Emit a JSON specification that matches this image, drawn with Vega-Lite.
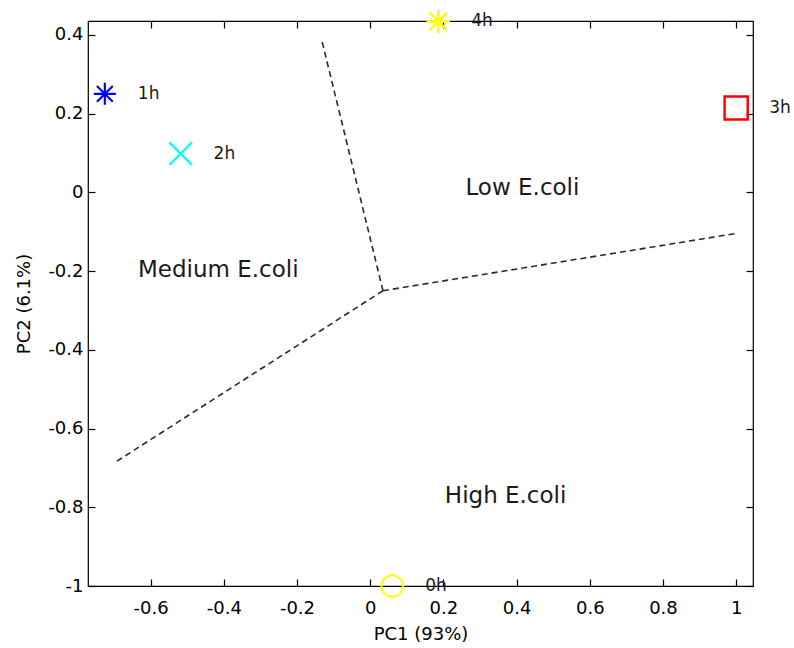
{
  "$schema": "https://vega.github.io/schema/vega-lite/v6.json",
  "width": 665,
  "height": 565,
  "autosize": "none",
  "padding": {"left": 88, "top": 21, "right": 41, "bottom": 62},
  "background": "white",
  "config": {
    "view": {"stroke": "#000", "strokeWidth": 1.2},
    "font": "DejaVu Sans",
    "axis": {
      "grid": false,
      "domain": false,
      "tickColor": "#000",
      "tickWidth": 1.2,
      "labelFont": "DejaVu Sans",
      "labelFontSize": 18,
      "labelColor": "#000",
      "titleFont": "DejaVu Sans",
      "titleFontSize": 18,
      "titleFontWeight": "normal",
      "titleColor": "#000"
    }
  },
  "datasets": {
    "points": [
      {"time": "0h", "pc1": 0.060, "pc2": -1.0},
      {"time": "1h", "pc1": -0.725, "pc2": 0.250},
      {"time": "2h", "pc1": -0.518, "pc2": 0.098},
      {"time": "3h", "pc1": 1.0, "pc2": 0.214},
      {"time": "4h", "pc1": 0.186, "pc2": 0.434}
    ],
    "boundaries": [
      {"seg": "a", "x1": 0.035, "y1": -0.250, "x2": -0.133, "y2": 0.389},
      {"seg": "b", "x1": 0.035, "y1": -0.250, "x2": 0.997, "y2": -0.105},
      {"seg": "c", "x1": 0.035, "y1": -0.250, "x2": -0.697, "y2": -0.686}
    ],
    "regions": [
      {"label": "Low E.coli", "pc1": 0.416, "pc2": 0.011},
      {"label": "Medium E.coli", "pc1": -0.415, "pc2": -0.197},
      {"label": "High E.coli", "pc1": 0.370, "pc2": -0.772}
    ]
  },
  "layer": [
    {
      "data": {"name": "boundaries"},
      "mark": {"type": "rule", "strokeDash": [6, 4], "color": "#2a2a2a", "strokeWidth": 1.6},
      "encoding": {
        "x": {
          "field": "x1", "type": "quantitative",
          "scale": {"domain": [-0.771, 1.046], "nice": false, "zero": false},
          "axis": {
            "orient": "bottom",
            "title": "PC1 (93%)",
            "values": [-0.6, -0.4, -0.2, 0, 0.2, 0.4, 0.6, 0.8, 1],
            "labelExpr": "'' + datum.value",
            "tickSize": -7,
            "labelPadding": 20,
            "titlePadding": 8
          }
        },
        "y": {
          "field": "y1", "type": "quantitative",
          "scale": {"domain": [-1, 0.435], "nice": false, "zero": false},
          "axis": {
            "orient": "left",
            "title": "PC2 (6.1%)",
            "values": [-1, -0.8, -0.6, -0.4, -0.2, 0, 0.2, 0.4],
            "labelExpr": "'' + datum.value",
            "tickSize": -7,
            "labelPadding": 12,
            "titlePadding": 14
          }
        },
        "x2": {"field": "x2"},
        "y2": {"field": "y2"}
      }
    },
    {
      "data": {"name": "points"},
      "mark": {"type": "point", "filled": false, "opacity": 1, "clip": false},
      "encoding": {
        "x": {"field": "pc1", "type": "quantitative", "axis": {"orient": "top", "values": [-0.6, -0.4, -0.2, 0, 0.2, 0.4, 0.6, 0.8, 1], "labels": false, "title": null, "tickSize": -7}},
        "y": {"field": "pc2", "type": "quantitative", "axis": {"orient": "right", "values": [-1, -0.8, -0.6, -0.4, -0.2, 0, 0.2, 0.4], "labels": false, "title": null, "tickSize": -7}},
        "shape": {
          "field": "time", "type": "nominal", "legend": null,
          "scale": {
            "domain": ["0h", "1h", "2h", "3h", "4h"],
            "range": [
              "circle",
              "M0,-1L0,1M-1,0L1,0M-0.72,-0.72L0.72,0.72M-0.72,0.72L0.72,-0.72",
              "M-1,-1L1,1M-1,1L1,-1",
              "square",
              "M0,-1L0,1M-1,0L1,0M-0.72,-0.72L0.72,0.72M-0.72,0.72L0.72,-0.72"
            ]
          }
        },
        "size": {
          "field": "time", "type": "ordinal", "legend": null,
          "scale": {"domain": ["0h", "1h", "2h", "3h", "4h"], "range": [460, 560, 270, 480, 560]}
        },
        "strokeWidth": {
          "field": "time", "type": "ordinal", "legend": null,
          "scale": {"domain": ["0h", "1h", "2h", "3h", "4h"], "range": [2, 2.6, 2, 2.4, 2.6]}
        },
        "color": {
          "field": "time", "type": "nominal", "legend": null,
          "scale": {"domain": ["0h", "1h", "2h", "3h", "4h"], "range": ["#ffff00", "#0000ff", "#00ffff", "#ff0000", "#ffff00"]}
        }
      }
    },
    {
      "data": {"name": "points"},
      "mark": {"type": "text", "align": "left", "baseline": "middle", "dx": 33, "fontSize": 17, "font": "DejaVu Sans", "color": "#1a1a1a", "clip": false},
      "encoding": {
        "x": {"field": "pc1", "type": "quantitative", "axis": null},
        "y": {"field": "pc2", "type": "quantitative", "axis": null},
        "text": {"field": "time", "type": "nominal"}
      }
    },
    {
      "data": {"name": "regions"},
      "mark": {"type": "text", "align": "center", "baseline": "middle", "fontSize": 23, "font": "DejaVu Sans", "color": "#1a1a1a"},
      "encoding": {
        "x": {"field": "pc1", "type": "quantitative", "axis": null},
        "y": {"field": "pc2", "type": "quantitative", "axis": null},
        "text": {"field": "label", "type": "nominal"}
      }
    }
  ],
  "resolve": {"axis": {"x": "independent", "y": "independent"}}
}
